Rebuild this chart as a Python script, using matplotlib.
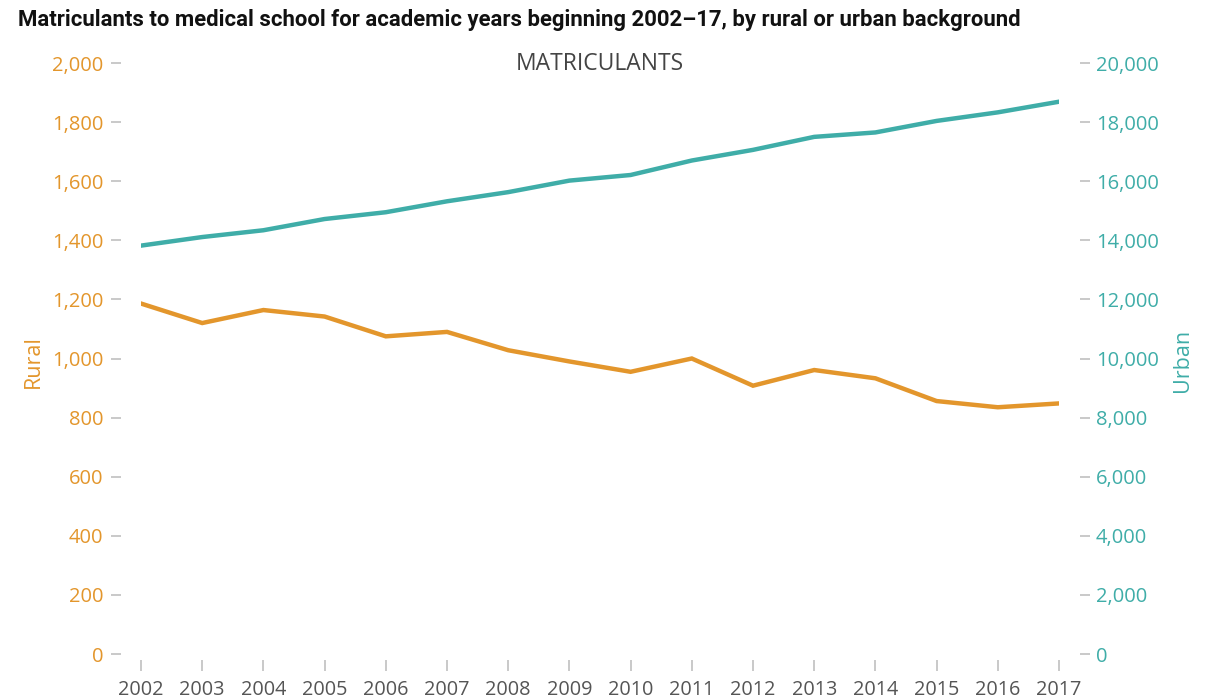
import numpy as np
import matplotlib
matplotlib.use("Agg")
import matplotlib.pyplot as plt
from matplotlib.ticker import FuncFormatter

# data
years = list(range(2002, 2018))
rural = [1186, 1120, 1164, 1142, 1075, 1090, 1028, 990, 955, 1000, 908, 961, 933, 856, 835, 848]
urban = [13820, 14110, 14340, 14720, 14950, 15320, 15630, 16020, 16210, 16700, 17060, 17500, 17650, 18040, 18330, 18690]
rural_ticks = [0, 200, 400, 600, 800, 1000, 1200, 1400, 1600, 1800, 2000]
urban_ticks = [0, 2000, 4000, 6000, 8000, 10000, 12000, 14000, 16000, 18000, 20000]

ORANGE = "#E3962C"
TEAL = "#3FADA8"
TICKGRAY = "#BBBBBB"
TEXTGRAY = "#555555"

plt.rcParams["font.family"] = ["Open Sans", "DejaVu Sans"]

fig = plt.figure(figsize=(12.13, 6.99), dpi=100)
ax = fig.add_axes([141 / 1213, 45 / 699, 918 / 1213, 591 / 699])
ax2 = ax.twinx()

ax.plot(years, rural, color=ORANGE, lw=3.2, solid_joinstyle="miter", zorder=3)
ax2.plot(years, urban, color=TEAL, lw=3.2, solid_joinstyle="miter", zorder=3)

ax.set_xlim(2002, 2017)
ax.set_ylim(0, 2000)
ax2.set_ylim(0, 20000)
ax.set_xticks(years)
ax.set_yticks(rural_ticks)
ax2.set_yticks(urban_ticks)

fmt = FuncFormatter(lambda v, p: f"{int(v):,}")
ax.yaxis.set_major_formatter(fmt)
ax2.yaxis.set_major_formatter(fmt)

for a in (ax, ax2):
    for s in a.spines.values():
        s.set_color("none")

# ticks sit a little away from the plot area
ax.spines["left"].set_position(("outward", 14.5))
ax2.spines["right"].set_position(("outward", 15))
ax.spines["bottom"].set_position(("outward", 4.5))

ax.tick_params(axis="y", direction="out", length=7.5, width=1.1, color=TICKGRAY,
               labelcolor=ORANGE, labelsize=14.5, pad=5)
ax2.tick_params(axis="y", direction="out", length=7.5, width=1.1, color=TICKGRAY,
                labelcolor=TEAL, labelsize=14.5, pad=4)
ax.tick_params(axis="x", direction="out", length=8, width=1.1, color=TICKGRAY,
               labelcolor=TEXTGRAY, labelsize=14.3, pad=6)

fig.text(33 / 1213, 1 - 362 / 699, "Rural", rotation=90, color=ORANGE, fontsize=15.5,
         ha="center", va="center")
fig.text(1183 / 1213, 1 - 360 / 699, "Urban", rotation=90, color=TEAL, fontsize=15.5,
         ha="center", va="center")

fig.text(600 / 1213, 1 - 64 / 699, "MATRICULANTS", color="#444444",
         fontsize=16.5, ha="center", va="center")

fig.text(18 / 1213, 1 - 20 / 699,
         "Matriculants to medical school for academic years beginning 2002\u201317, by rural or urban background",
         fontsize=15.9, fontweight="bold", family=["Roboto", "DejaVu Sans"], color="#111111",
         ha="left", va="center")

fig.savefig("out.png", dpi=100)
